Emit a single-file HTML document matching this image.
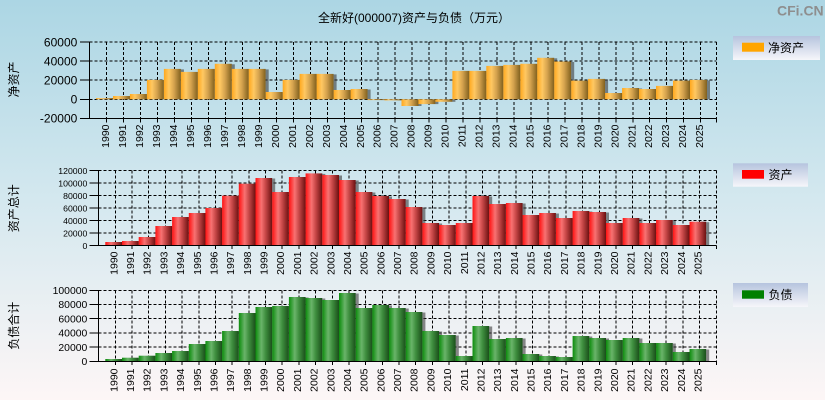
<!DOCTYPE html>
<html><head><meta charset="utf-8"><style>
html,body{margin:0;padding:0;width:825px;height:400px;overflow:hidden}
svg{display:block}
text{font-family:"Liberation Sans","Noto Sans CJK SC",sans-serif;fill:#000}
.o{fill:url(#go)}.r{fill:url(#gr)}.g{fill:url(#gg)}.s{fill:#3c3c3c;opacity:.6}
.grid{stroke:#000;stroke-width:1;stroke-dasharray:3 2;fill:none;shape-rendering:crispEdges}
.ax{stroke:#000;stroke-width:1;fill:none;shape-rendering:crispEdges}
.xl text{font-size:10.5px}
</style></head><body>
<svg width="825" height="400" viewBox="0 0 825 400" xmlns="http://www.w3.org/2000/svg">
<defs>
<linearGradient id="bg" x1="0" y1="0" x2="0" y2="1"><stop offset="0" stop-color="#acd6e4"/><stop offset="0.5" stop-color="#d4e8ef"/><stop offset="1" stop-color="#fdf6f6"/></linearGradient>
<linearGradient id="lg" x1="0" y1="0" x2="0" y2="1"><stop offset="0" stop-color="#b6c4de"/><stop offset="1" stop-color="#f6f6fa"/></linearGradient>
<linearGradient id="go"><stop offset="0" stop-color="#ffa81e"/><stop offset="0.3" stop-color="#ffc862"/><stop offset="0.6" stop-color="#d4a24e"/><stop offset="1" stop-color="#80601e"/></linearGradient>
<linearGradient id="gr"><stop offset="0" stop-color="#ff1212"/><stop offset="0.35" stop-color="#f87272"/><stop offset="0.6" stop-color="#c84848"/><stop offset="1" stop-color="#6a1010"/></linearGradient>
<linearGradient id="gg"><stop offset="0" stop-color="#0c8c0c"/><stop offset="0.35" stop-color="#6ab46a"/><stop offset="0.6" stop-color="#3f8f3f"/><stop offset="1" stop-color="#1a4e1a"/></linearGradient>
</defs>
<rect x="0" y="0" width="825" height="400" fill="url(#bg)"/>

<text x="318" y="22" style="font-size:12px">全新好(000007)资产与负债（万元）</text>
<text x="777" y="15.5" style="font-size:14px;font-weight:bold;fill:#8e8e8e">CFi.CN</text>

<!-- Legends -->
<rect x="733" y="36" width="87" height="24" fill="url(#lg)"/>
<rect x="742" y="42.7" width="22" height="9" fill="#ffa500"/>
<text x="768" y="52" style="font-size:12px">净资产</text>
<rect x="733" y="163.3" width="75" height="23.4" fill="url(#lg)"/>
<rect x="742" y="170" width="22" height="8.7" fill="#ff0000"/>
<text x="768.5" y="179" style="font-size:12px">资产</text>
<rect x="733" y="283" width="75" height="24" fill="url(#lg)"/>
<rect x="742" y="290.3" width="22" height="8.4" fill="#008000"/>
<text x="768.5" y="299" style="font-size:12px">负债</text>

<!-- Y titles -->
<text transform="translate(18,79.5) rotate(-90)" text-anchor="middle" style="font-size:12px">净资产</text>
<text transform="translate(18,208.3) rotate(-90)" text-anchor="middle" style="font-size:12px">资产总计</text>
<text transform="translate(18,325.8) rotate(-90)" text-anchor="middle" style="font-size:12px">负债合计</text>

<!-- ===== Panel 1 ===== -->
<path class="grid" d="M89.5 42.1H716.5M89.5 61.2H716.5M89.5 80.2H716.5M89.5 99.3H716.5M716.5 42.1V118.4
M106.7 42.1V118.4M123.7 42.1V118.4M140.6 42.1V118.4M157.6 42.1V118.4M174.6 42.1V118.4M191.6 42.1V118.4M208.5 42.1V118.4M225.5 42.1V118.4M242.5 42.1V118.4M259.4 42.1V118.4M276.4 42.1V118.4M293.4 42.1V118.4M310.3 42.1V118.4M327.3 42.1V118.4M344.3 42.1V118.4M361.3 42.1V118.4M378.2 42.1V118.4M395.2 42.1V118.4M412.2 42.1V118.4M429.1 42.1V118.4M446.1 42.1V118.4M463.1 42.1V118.4M480 42.1V118.4M497 42.1V118.4M514 42.1V118.4M531 42.1V118.4M547.9 42.1V118.4M564.9 42.1V118.4M581.9 42.1V118.4M598.8 42.1V118.4M615.8 42.1V118.4M632.8 42.1V118.4M649.7 42.1V118.4M666.7 42.1V118.4M683.7 42.1V118.4M700.7 42.1V118.4"/>
<g>
<rect class="o" x="96" y="98.1" width="17" height="1.2"/><rect class="s" x="113" y="98.1" width="3" height="1.2"/>
<rect class="o" x="113" y="96" width="17" height="3.3"/><rect class="s" x="130" y="96.5" width="3" height="2.8"/>
<rect class="o" x="129.9" y="94" width="17" height="5.3"/><rect class="s" x="146.9" y="94.5" width="3" height="4.8"/>
<rect class="o" x="146.9" y="79.9" width="17" height="19.4"/><rect class="s" x="163.9" y="80.4" width="3" height="18.9"/>
<rect class="o" x="163.9" y="68.9" width="17" height="30.4"/><rect class="s" x="180.9" y="69.4" width="3" height="29.9"/>
<rect class="o" x="180.9" y="71.9" width="17" height="27.4"/><rect class="s" x="197.9" y="72.4" width="3" height="26.9"/>
<rect class="o" x="197.8" y="68.9" width="17" height="30.4"/><rect class="s" x="214.8" y="69.4" width="3" height="29.9"/>
<rect class="o" x="214.8" y="63.8" width="17" height="35.5"/><rect class="s" x="231.8" y="64.3" width="3" height="35"/>
<rect class="o" x="231.8" y="68.9" width="17" height="30.4"/><rect class="s" x="248.8" y="69.4" width="3" height="29.9"/>
<rect class="o" x="248.7" y="68.9" width="17" height="30.4"/><rect class="s" x="265.7" y="69.4" width="3" height="29.9"/>
<rect class="o" x="265.7" y="92" width="17" height="7.3"/><rect class="s" x="282.7" y="92.5" width="3" height="6.8"/>
<rect class="o" x="282.7" y="79.9" width="17" height="19.4"/><rect class="s" x="299.7" y="80.4" width="3" height="18.9"/>
<rect class="o" x="299.6" y="73.9" width="17" height="25.4"/><rect class="s" x="316.6" y="74.4" width="3" height="24.9"/>
<rect class="o" x="316.6" y="73.9" width="17" height="25.4"/><rect class="s" x="333.6" y="74.4" width="3" height="24.9"/>
<rect class="o" x="333.6" y="90" width="17" height="9.3"/><rect class="s" x="350.6" y="90.5" width="3" height="8.8"/>
<rect class="o" x="350.6" y="89" width="17" height="10.3"/><rect class="s" x="367.6" y="89.5" width="3" height="9.8"/>
<rect class="o" x="367.5" y="99.3" width="17" height="0.8"/><rect class="s" x="384.5" y="99.3" width="3" height="0.8"/>
<rect class="o" x="384.5" y="99.3" width="17" height="1.1"/><rect class="s" x="401.5" y="99.3" width="3" height="1.1"/>
<rect class="o" x="401.5" y="99.3" width="17" height="6.7"/><rect class="s" x="418.5" y="99.3" width="3" height="6.7"/>
<rect class="o" x="418.4" y="99.3" width="17" height="4.8"/><rect class="s" x="435.4" y="99.3" width="3" height="4.8"/>
<rect class="o" x="435.4" y="99.3" width="17" height="2.5"/><rect class="s" x="452.4" y="99.3" width="3" height="2.5"/>
<rect class="o" x="452.4" y="70.9" width="17" height="28.4"/><rect class="s" x="469.4" y="71.4" width="3" height="27.9"/>
<rect class="o" x="469.3" y="70.9" width="17" height="28.4"/><rect class="s" x="486.3" y="71.4" width="3" height="27.9"/>
<rect class="o" x="486.3" y="65.9" width="17" height="33.4"/><rect class="s" x="503.3" y="66.4" width="3" height="32.9"/>
<rect class="o" x="503.3" y="64.9" width="17" height="34.4"/><rect class="s" x="520.3" y="65.4" width="3" height="33.9"/>
<rect class="o" x="520.3" y="63.8" width="17" height="35.5"/><rect class="s" x="537.3" y="64.3" width="3" height="35"/>
<rect class="o" x="537.2" y="57.8" width="17" height="41.5"/><rect class="s" x="554.2" y="58.3" width="3" height="41"/>
<rect class="o" x="554.2" y="61.5" width="17" height="37.8"/><rect class="s" x="571.2" y="62" width="3" height="37.3"/>
<rect class="o" x="571.2" y="80.6" width="17" height="18.7"/><rect class="s" x="588.2" y="81.1" width="3" height="18.2"/>
<rect class="o" x="588.1" y="78.9" width="17" height="20.4"/><rect class="s" x="605.1" y="79.4" width="3" height="19.9"/>
<rect class="o" x="605.1" y="93" width="17" height="6.3"/><rect class="s" x="622.1" y="93.5" width="3" height="5.8"/>
<rect class="o" x="622.1" y="88" width="17" height="11.3"/><rect class="s" x="639.1" y="88.5" width="3" height="10.8"/>
<rect class="o" x="639" y="89" width="17" height="10.3"/><rect class="s" x="656" y="89.5" width="3" height="9.8"/>
<rect class="o" x="656" y="85.9" width="17" height="13.4"/><rect class="s" x="673" y="86.4" width="3" height="12.9"/>
<rect class="o" x="673" y="80.6" width="17" height="18.7"/><rect class="s" x="690" y="81.1" width="3" height="18.2"/>
<rect class="o" x="690" y="79.9" width="17" height="19.4"/><rect class="s" x="707" y="80.4" width="3" height="18.9"/>
</g>
<path class="ax" d="M89.5 42.1V118.4H716.5M80 42.1H89.5M80 61.2H89.5M80 80.2H89.5M80 99.3H89.5M80 118.4H89.5
M106.7 118.4v4M123.7 118.4v4M140.6 118.4v4M157.6 118.4v4M174.6 118.4v4M191.6 118.4v4M208.5 118.4v4M225.5 118.4v4M242.5 118.4v4M259.4 118.4v4M276.4 118.4v4M293.4 118.4v4M310.3 118.4v4M327.3 118.4v4M344.3 118.4v4M361.3 118.4v4M378.2 118.4v4M395.2 118.4v4M412.2 118.4v4M429.1 118.4v4M446.1 118.4v4M463.1 118.4v4M480 118.4v4M497 118.4v4M514 118.4v4M531 118.4v4M547.9 118.4v4M564.9 118.4v4M581.9 118.4v4M598.8 118.4v4M615.8 118.4v4M632.8 118.4v4M649.7 118.4v4M666.7 118.4v4M683.7 118.4v4M700.7 118.4v4M716.5 118.4v4"/>
<g text-anchor="end" style="font-size:12px">
<text x="77.3" y="46.4">60000</text><text x="77.3" y="65.5">40000</text><text x="77.3" y="84.5">20000</text><text x="77.3" y="103.6">0</text><text x="77.3" y="122.7">-20000</text>
</g>
<g class="xl" text-anchor="end">
<text transform="translate(109.2,124.5) rotate(-90)">1990</text><text transform="translate(126.2,124.5) rotate(-90)">1991</text><text transform="translate(143.1,124.5) rotate(-90)">1992</text><text transform="translate(160.1,124.5) rotate(-90)">1993</text><text transform="translate(177.1,124.5) rotate(-90)">1994</text><text transform="translate(194.1,124.5) rotate(-90)">1995</text><text transform="translate(211,124.5) rotate(-90)">1996</text><text transform="translate(228,124.5) rotate(-90)">1997</text><text transform="translate(245,124.5) rotate(-90)">1998</text><text transform="translate(261.9,124.5) rotate(-90)">1999</text><text transform="translate(278.9,124.5) rotate(-90)">2000</text><text transform="translate(295.9,124.5) rotate(-90)">2001</text><text transform="translate(312.8,124.5) rotate(-90)">2002</text><text transform="translate(329.8,124.5) rotate(-90)">2003</text><text transform="translate(346.8,124.5) rotate(-90)">2004</text><text transform="translate(363.8,124.5) rotate(-90)">2005</text><text transform="translate(380.7,124.5) rotate(-90)">2006</text><text transform="translate(397.7,124.5) rotate(-90)">2007</text><text transform="translate(414.7,124.5) rotate(-90)">2008</text><text transform="translate(431.6,124.5) rotate(-90)">2009</text><text transform="translate(448.6,124.5) rotate(-90)">2010</text><text transform="translate(465.6,124.5) rotate(-90)">2011</text><text transform="translate(482.5,124.5) rotate(-90)">2012</text><text transform="translate(499.5,124.5) rotate(-90)">2013</text><text transform="translate(516.5,124.5) rotate(-90)">2014</text><text transform="translate(533.5,124.5) rotate(-90)">2015</text><text transform="translate(550.4,124.5) rotate(-90)">2016</text><text transform="translate(567.4,124.5) rotate(-90)">2017</text><text transform="translate(584.4,124.5) rotate(-90)">2018</text><text transform="translate(601.3,124.5) rotate(-90)">2019</text><text transform="translate(618.3,124.5) rotate(-90)">2020</text><text transform="translate(635.3,124.5) rotate(-90)">2021</text><text transform="translate(652.2,124.5) rotate(-90)">2022</text><text transform="translate(669.2,124.5) rotate(-90)">2023</text><text transform="translate(686.2,124.5) rotate(-90)">2024</text><text transform="translate(703.2,124.5) rotate(-90)">2025</text>
</g>

<!-- ===== Panel 2 ===== -->
<path class="grid" d="M98.5 170.7H716.5M98.5 183.2H716.5M98.5 195.7H716.5M98.5 208.2H716.5M98.5 220.7H716.5M98.5 233.2H716.5M716.5 170.7V245.7
M115.3 170.7V245.7M132 170.7V245.7M148.7 170.7V245.7M165.4 170.7V245.7M182.1 170.7V245.7M198.8 170.7V245.7M215.4 170.7V245.7M232.1 170.7V245.7M248.8 170.7V245.7M265.5 170.7V245.7M282.2 170.7V245.7M298.9 170.7V245.7M315.6 170.7V245.7M332.3 170.7V245.7M349 170.7V245.7M365.7 170.7V245.7M382.3 170.7V245.7M399 170.7V245.7M415.7 170.7V245.7M432.4 170.7V245.7M449.1 170.7V245.7M465.8 170.7V245.7M482.5 170.7V245.7M499.2 170.7V245.7M515.9 170.7V245.7M532.6 170.7V245.7M549.2 170.7V245.7M565.9 170.7V245.7M582.6 170.7V245.7M599.3 170.7V245.7M616 170.7V245.7M632.7 170.7V245.7M649.4 170.7V245.7M666.1 170.7V245.7M682.8 170.7V245.7M699.5 170.7V245.7"/>
<g>
<rect class="r" x="105.3" y="242" width="16.7" height="3.7"/><rect class="s" x="122" y="242.5" width="3" height="3.2"/>
<rect class="r" x="122" y="241" width="16.7" height="4.7"/><rect class="s" x="138.7" y="241.5" width="3" height="4.2"/>
<rect class="r" x="138.7" y="237" width="16.7" height="8.7"/><rect class="s" x="155.4" y="237.5" width="3" height="8.2"/>
<rect class="r" x="155.4" y="226" width="16.7" height="19.7"/><rect class="s" x="172.1" y="226.5" width="3" height="19.2"/>
<rect class="r" x="172.1" y="217" width="16.7" height="28.7"/><rect class="s" x="188.8" y="217.5" width="3" height="28.2"/>
<rect class="r" x="188.8" y="213" width="16.7" height="32.7"/><rect class="s" x="205.5" y="213.5" width="3" height="32.2"/>
<rect class="r" x="205.4" y="208" width="16.7" height="37.7"/><rect class="s" x="222.1" y="208.5" width="3" height="37.2"/>
<rect class="r" x="222.1" y="195.7" width="16.7" height="50"/><rect class="s" x="238.8" y="196.2" width="3" height="49.5"/>
<rect class="r" x="238.8" y="183.7" width="16.7" height="62"/><rect class="s" x="255.5" y="184.2" width="3" height="61.5"/>
<rect class="r" x="255.5" y="178" width="16.7" height="67.7"/><rect class="s" x="272.2" y="178.5" width="3" height="67.2"/>
<rect class="r" x="272.2" y="192" width="16.7" height="53.7"/><rect class="s" x="288.9" y="192.5" width="3" height="53.2"/>
<rect class="r" x="288.9" y="177" width="16.7" height="68.7"/><rect class="s" x="305.6" y="177.5" width="3" height="68.2"/>
<rect class="r" x="305.6" y="173.4" width="16.7" height="72.3"/><rect class="s" x="322.3" y="173.9" width="3" height="71.8"/>
<rect class="r" x="322.3" y="175" width="16.7" height="70.7"/><rect class="s" x="339" y="175.5" width="3" height="70.2"/>
<rect class="r" x="339" y="180" width="16.7" height="65.7"/><rect class="s" x="355.7" y="180.5" width="3" height="65.2"/>
<rect class="r" x="355.7" y="192" width="16.7" height="53.7"/><rect class="s" x="372.4" y="192.5" width="3" height="53.2"/>
<rect class="r" x="372.3" y="196" width="16.7" height="49.7"/><rect class="s" x="389" y="196.5" width="3" height="49.2"/>
<rect class="r" x="389" y="199" width="16.7" height="46.7"/><rect class="s" x="405.7" y="199.5" width="3" height="46.2"/>
<rect class="r" x="405.7" y="207" width="16.7" height="38.7"/><rect class="s" x="422.4" y="207.5" width="3" height="38.2"/>
<rect class="r" x="422.4" y="223" width="16.7" height="22.7"/><rect class="s" x="439.1" y="223.5" width="3" height="22.2"/>
<rect class="r" x="439.1" y="225" width="16.7" height="20.7"/><rect class="s" x="455.8" y="225.5" width="3" height="20.2"/>
<rect class="r" x="455.8" y="223" width="16.7" height="22.7"/><rect class="s" x="472.5" y="223.5" width="3" height="22.2"/>
<rect class="r" x="472.5" y="196" width="16.7" height="49.7"/><rect class="s" x="489.2" y="196.5" width="3" height="49.2"/>
<rect class="r" x="489.2" y="204" width="16.7" height="41.7"/><rect class="s" x="505.9" y="204.5" width="3" height="41.2"/>
<rect class="r" x="505.9" y="203" width="16.7" height="42.7"/><rect class="s" x="522.6" y="203.5" width="3" height="42.2"/>
<rect class="r" x="522.6" y="215" width="16.7" height="30.7"/><rect class="s" x="539.3" y="215.5" width="3" height="30.2"/>
<rect class="r" x="539.2" y="213" width="16.7" height="32.7"/><rect class="s" x="555.9" y="213.5" width="3" height="32.2"/>
<rect class="r" x="555.9" y="218" width="16.7" height="27.7"/><rect class="s" x="572.6" y="218.5" width="3" height="27.2"/>
<rect class="r" x="572.6" y="211" width="16.7" height="34.7"/><rect class="s" x="589.3" y="211.5" width="3" height="34.2"/>
<rect class="r" x="589.3" y="212" width="16.7" height="33.7"/><rect class="s" x="606" y="212.5" width="3" height="33.2"/>
<rect class="r" x="606" y="223" width="16.7" height="22.7"/><rect class="s" x="622.7" y="223.5" width="3" height="22.2"/>
<rect class="r" x="622.7" y="218" width="16.7" height="27.7"/><rect class="s" x="639.4" y="218.5" width="3" height="27.2"/>
<rect class="r" x="639.4" y="223" width="16.7" height="22.7"/><rect class="s" x="656.1" y="223.5" width="3" height="22.2"/>
<rect class="r" x="656.1" y="220" width="16.7" height="25.7"/><rect class="s" x="672.8" y="220.5" width="3" height="25.2"/>
<rect class="r" x="672.8" y="225" width="16.7" height="20.7"/><rect class="s" x="689.5" y="225.5" width="3" height="20.2"/>
<rect class="r" x="689.5" y="221.7" width="16.7" height="24"/><rect class="s" x="706.2" y="222.2" width="3" height="23.5"/>
</g>
<path class="ax" d="M98.5 170.7V245.7H716.5M89.3 170.7H98.5M89.3 183.2H98.5M89.3 195.7H98.5M89.3 208.2H98.5M89.3 220.7H98.5M89.3 233.2H98.5M89.3 245.7H98.5
M115.3 245.7v3.5M132 245.7v3.5M148.7 245.7v3.5M165.4 245.7v3.5M182.1 245.7v3.5M198.8 245.7v3.5M215.4 245.7v3.5M232.1 245.7v3.5M248.8 245.7v3.5M265.5 245.7v3.5M282.2 245.7v3.5M298.9 245.7v3.5M315.6 245.7v3.5M332.3 245.7v3.5M349 245.7v3.5M365.7 245.7v3.5M382.3 245.7v3.5M399 245.7v3.5M415.7 245.7v3.5M432.4 245.7v3.5M449.1 245.7v3.5M465.8 245.7v3.5M482.5 245.7v3.5M499.2 245.7v3.5M515.9 245.7v3.5M532.6 245.7v3.5M549.2 245.7v3.5M565.9 245.7v3.5M582.6 245.7v3.5M599.3 245.7v3.5M616 245.7v3.5M632.7 245.7v3.5M649.4 245.7v3.5M666.1 245.7v3.5M682.8 245.7v3.5M699.5 245.7v3.5M716.5 245.7v3.5"/>
<g text-anchor="end" style="font-size:8.7px">
<text x="87.3" y="173.8">120000</text><text x="87.3" y="186.3">100000</text><text x="87.3" y="198.8">80000</text><text x="87.3" y="211.3">60000</text><text x="87.3" y="223.8">40000</text><text x="87.3" y="236.3">20000</text><text x="87.3" y="248.8">0</text>
</g>
<g class="xl" text-anchor="end">
<text transform="translate(117.3,251.5) rotate(-90)">1990</text><text transform="translate(134,251.5) rotate(-90)">1991</text><text transform="translate(150.7,251.5) rotate(-90)">1992</text><text transform="translate(167.4,251.5) rotate(-90)">1993</text><text transform="translate(184.1,251.5) rotate(-90)">1994</text><text transform="translate(200.8,251.5) rotate(-90)">1995</text><text transform="translate(217.4,251.5) rotate(-90)">1996</text><text transform="translate(234.1,251.5) rotate(-90)">1997</text><text transform="translate(250.8,251.5) rotate(-90)">1998</text><text transform="translate(267.5,251.5) rotate(-90)">1999</text><text transform="translate(284.2,251.5) rotate(-90)">2000</text><text transform="translate(300.9,251.5) rotate(-90)">2001</text><text transform="translate(317.6,251.5) rotate(-90)">2002</text><text transform="translate(334.3,251.5) rotate(-90)">2003</text><text transform="translate(351,251.5) rotate(-90)">2004</text><text transform="translate(367.7,251.5) rotate(-90)">2005</text><text transform="translate(384.3,251.5) rotate(-90)">2006</text><text transform="translate(401,251.5) rotate(-90)">2007</text><text transform="translate(417.7,251.5) rotate(-90)">2008</text><text transform="translate(434.4,251.5) rotate(-90)">2009</text><text transform="translate(451.1,251.5) rotate(-90)">2010</text><text transform="translate(467.8,251.5) rotate(-90)">2011</text><text transform="translate(484.5,251.5) rotate(-90)">2012</text><text transform="translate(501.2,251.5) rotate(-90)">2013</text><text transform="translate(517.9,251.5) rotate(-90)">2014</text><text transform="translate(534.6,251.5) rotate(-90)">2015</text><text transform="translate(551.2,251.5) rotate(-90)">2016</text><text transform="translate(567.9,251.5) rotate(-90)">2017</text><text transform="translate(584.6,251.5) rotate(-90)">2018</text><text transform="translate(601.3,251.5) rotate(-90)">2019</text><text transform="translate(618,251.5) rotate(-90)">2020</text><text transform="translate(634.7,251.5) rotate(-90)">2021</text><text transform="translate(651.4,251.5) rotate(-90)">2022</text><text transform="translate(668.1,251.5) rotate(-90)">2023</text><text transform="translate(684.8,251.5) rotate(-90)">2024</text><text transform="translate(701.5,251.5) rotate(-90)">2025</text>
</g>

<!-- ===== Panel 3 ===== -->
<path class="grid" d="M98.5 290.3H716.5M98.5 304.5H716.5M98.5 318.7H716.5M98.5 332.9H716.5M98.5 347.1H716.5M716.5 290.3V361.3
M115.3 290.3V361.3M132 290.3V361.3M148.7 290.3V361.3M165.4 290.3V361.3M182.1 290.3V361.3M198.8 290.3V361.3M215.4 290.3V361.3M232.1 290.3V361.3M248.8 290.3V361.3M265.5 290.3V361.3M282.2 290.3V361.3M298.9 290.3V361.3M315.6 290.3V361.3M332.3 290.3V361.3M349 290.3V361.3M365.7 290.3V361.3M382.3 290.3V361.3M399 290.3V361.3M415.7 290.3V361.3M432.4 290.3V361.3M449.1 290.3V361.3M465.8 290.3V361.3M482.5 290.3V361.3M499.2 290.3V361.3M515.9 290.3V361.3M532.6 290.3V361.3M549.2 290.3V361.3M565.9 290.3V361.3M582.6 290.3V361.3M599.3 290.3V361.3M616 290.3V361.3M632.7 290.3V361.3M649.4 290.3V361.3M666.1 290.3V361.3M682.8 290.3V361.3M699.5 290.3V361.3"/>
<g>
<rect class="g" x="105.3" y="359" width="16.7" height="2.3"/><rect class="s" x="122" y="359.3" width="3" height="2"/>
<rect class="g" x="122" y="357.7" width="16.7" height="3.6"/><rect class="s" x="138.7" y="358.2" width="3" height="3.1"/>
<rect class="g" x="138.7" y="355.7" width="16.7" height="5.6"/><rect class="s" x="155.4" y="356.2" width="3" height="5.1"/>
<rect class="g" x="155.4" y="353" width="16.7" height="8.3"/><rect class="s" x="172.1" y="353.5" width="3" height="7.8"/>
<rect class="g" x="172.1" y="351" width="16.7" height="10.3"/><rect class="s" x="188.8" y="351.5" width="3" height="9.8"/>
<rect class="g" x="188.8" y="344" width="16.7" height="17.3"/><rect class="s" x="205.5" y="344.5" width="3" height="16.8"/>
<rect class="g" x="205.4" y="341" width="16.7" height="20.3"/><rect class="s" x="222.1" y="341.5" width="3" height="19.8"/>
<rect class="g" x="222.1" y="331" width="16.7" height="30.3"/><rect class="s" x="238.8" y="331.5" width="3" height="29.8"/>
<rect class="g" x="238.8" y="313" width="16.7" height="48.3"/><rect class="s" x="255.5" y="313.5" width="3" height="47.8"/>
<rect class="g" x="255.5" y="307" width="16.7" height="54.3"/><rect class="s" x="272.2" y="307.5" width="3" height="53.8"/>
<rect class="g" x="272.2" y="306" width="16.7" height="55.3"/><rect class="s" x="288.9" y="306.5" width="3" height="54.8"/>
<rect class="g" x="288.9" y="297" width="16.7" height="64.3"/><rect class="s" x="305.6" y="297.5" width="3" height="63.8"/>
<rect class="g" x="305.6" y="298" width="16.7" height="63.3"/><rect class="s" x="322.3" y="298.5" width="3" height="62.8"/>
<rect class="g" x="322.3" y="300" width="16.7" height="61.3"/><rect class="s" x="339" y="300.5" width="3" height="60.8"/>
<rect class="g" x="339" y="293" width="16.7" height="68.3"/><rect class="s" x="355.7" y="293.5" width="3" height="67.8"/>
<rect class="g" x="355.7" y="308" width="16.7" height="53.3"/><rect class="s" x="372.4" y="308.5" width="3" height="52.8"/>
<rect class="g" x="372.3" y="305" width="16.7" height="56.3"/><rect class="s" x="389" y="305.5" width="3" height="55.8"/>
<rect class="g" x="389" y="308" width="16.7" height="53.3"/><rect class="s" x="405.7" y="308.5" width="3" height="52.8"/>
<rect class="g" x="405.7" y="312" width="16.7" height="49.3"/><rect class="s" x="422.4" y="312.5" width="3" height="48.8"/>
<rect class="g" x="422.4" y="331" width="16.7" height="30.3"/><rect class="s" x="439.1" y="331.5" width="3" height="29.8"/>
<rect class="g" x="439.1" y="335" width="16.7" height="26.3"/><rect class="s" x="455.8" y="335.5" width="3" height="25.8"/>
<rect class="g" x="455.8" y="356" width="16.7" height="5.3"/><rect class="s" x="472.5" y="356.5" width="3" height="4.8"/>
<rect class="g" x="472.5" y="326" width="16.7" height="35.3"/><rect class="s" x="489.2" y="326.5" width="3" height="34.8"/>
<rect class="g" x="489.2" y="339" width="16.7" height="22.3"/><rect class="s" x="505.9" y="339.5" width="3" height="21.8"/>
<rect class="g" x="505.9" y="338" width="16.7" height="23.3"/><rect class="s" x="522.6" y="338.5" width="3" height="22.8"/>
<rect class="g" x="522.6" y="354" width="16.7" height="7.3"/><rect class="s" x="539.3" y="354.5" width="3" height="6.8"/>
<rect class="g" x="539.2" y="356" width="16.7" height="5.3"/><rect class="s" x="555.9" y="356.5" width="3" height="4.8"/>
<rect class="g" x="555.9" y="357" width="16.7" height="4.3"/><rect class="s" x="572.6" y="357.5" width="3" height="3.8"/>
<rect class="g" x="572.6" y="336" width="16.7" height="25.3"/><rect class="s" x="589.3" y="336.5" width="3" height="24.8"/>
<rect class="g" x="589.3" y="338" width="16.7" height="23.3"/><rect class="s" x="606" y="338.5" width="3" height="22.8"/>
<rect class="g" x="606" y="340" width="16.7" height="21.3"/><rect class="s" x="622.7" y="340.5" width="3" height="20.8"/>
<rect class="g" x="622.7" y="338" width="16.7" height="23.3"/><rect class="s" x="639.4" y="338.5" width="3" height="22.8"/>
<rect class="g" x="639.4" y="343" width="16.7" height="18.3"/><rect class="s" x="656.1" y="343.5" width="3" height="17.8"/>
<rect class="g" x="656.1" y="343" width="16.7" height="18.3"/><rect class="s" x="672.8" y="343.5" width="3" height="17.8"/>
<rect class="g" x="672.8" y="352" width="16.7" height="9.3"/><rect class="s" x="689.5" y="352.5" width="3" height="8.8"/>
<rect class="g" x="689.5" y="349" width="16.7" height="12.3"/><rect class="s" x="706.2" y="349.5" width="3" height="11.8"/>
</g>
<path class="ax" d="M98.5 290.3V361.3H716.5M89.3 290.3H98.5M89.3 304.5H98.5M89.3 318.7H98.5M89.3 332.9H98.5M89.3 347.1H98.5M89.3 361.3H98.5
M115.3 361.3v3.5M132 361.3v3.5M148.7 361.3v3.5M165.4 361.3v3.5M182.1 361.3v3.5M198.8 361.3v3.5M215.4 361.3v3.5M232.1 361.3v3.5M248.8 361.3v3.5M265.5 361.3v3.5M282.2 361.3v3.5M298.9 361.3v3.5M315.6 361.3v3.5M332.3 361.3v3.5M349 361.3v3.5M365.7 361.3v3.5M382.3 361.3v3.5M399 361.3v3.5M415.7 361.3v3.5M432.4 361.3v3.5M449.1 361.3v3.5M465.8 361.3v3.5M482.5 361.3v3.5M499.2 361.3v3.5M515.9 361.3v3.5M532.6 361.3v3.5M549.2 361.3v3.5M565.9 361.3v3.5M582.6 361.3v3.5M599.3 361.3v3.5M616 361.3v3.5M632.7 361.3v3.5M649.4 361.3v3.5M666.1 361.3v3.5M682.8 361.3v3.5M699.5 361.3v3.5M716.5 361.3v3.5"/>
<g text-anchor="end" style="font-size:10.4px">
<text x="87.3" y="294">100000</text><text x="87.3" y="308.2">80000</text><text x="87.3" y="322.4">60000</text><text x="87.3" y="336.6">40000</text><text x="87.3" y="350.8">20000</text><text x="87.3" y="365">0</text>
</g>
<g class="xl" text-anchor="end">
<text transform="translate(117.3,368.5) rotate(-90)">1990</text><text transform="translate(134,368.5) rotate(-90)">1991</text><text transform="translate(150.7,368.5) rotate(-90)">1992</text><text transform="translate(167.4,368.5) rotate(-90)">1993</text><text transform="translate(184.1,368.5) rotate(-90)">1994</text><text transform="translate(200.8,368.5) rotate(-90)">1995</text><text transform="translate(217.4,368.5) rotate(-90)">1996</text><text transform="translate(234.1,368.5) rotate(-90)">1997</text><text transform="translate(250.8,368.5) rotate(-90)">1998</text><text transform="translate(267.5,368.5) rotate(-90)">1999</text><text transform="translate(284.2,368.5) rotate(-90)">2000</text><text transform="translate(300.9,368.5) rotate(-90)">2001</text><text transform="translate(317.6,368.5) rotate(-90)">2002</text><text transform="translate(334.3,368.5) rotate(-90)">2003</text><text transform="translate(351,368.5) rotate(-90)">2004</text><text transform="translate(367.7,368.5) rotate(-90)">2005</text><text transform="translate(384.3,368.5) rotate(-90)">2006</text><text transform="translate(401,368.5) rotate(-90)">2007</text><text transform="translate(417.7,368.5) rotate(-90)">2008</text><text transform="translate(434.4,368.5) rotate(-90)">2009</text><text transform="translate(451.1,368.5) rotate(-90)">2010</text><text transform="translate(467.8,368.5) rotate(-90)">2011</text><text transform="translate(484.5,368.5) rotate(-90)">2012</text><text transform="translate(501.2,368.5) rotate(-90)">2013</text><text transform="translate(517.9,368.5) rotate(-90)">2014</text><text transform="translate(534.6,368.5) rotate(-90)">2015</text><text transform="translate(551.2,368.5) rotate(-90)">2016</text><text transform="translate(567.9,368.5) rotate(-90)">2017</text><text transform="translate(584.6,368.5) rotate(-90)">2018</text><text transform="translate(601.3,368.5) rotate(-90)">2019</text><text transform="translate(618,368.5) rotate(-90)">2020</text><text transform="translate(634.7,368.5) rotate(-90)">2021</text><text transform="translate(651.4,368.5) rotate(-90)">2022</text><text transform="translate(668.1,368.5) rotate(-90)">2023</text><text transform="translate(684.8,368.5) rotate(-90)">2024</text><text transform="translate(701.5,368.5) rotate(-90)">2025</text>
</g>
</svg>
</body></html>
